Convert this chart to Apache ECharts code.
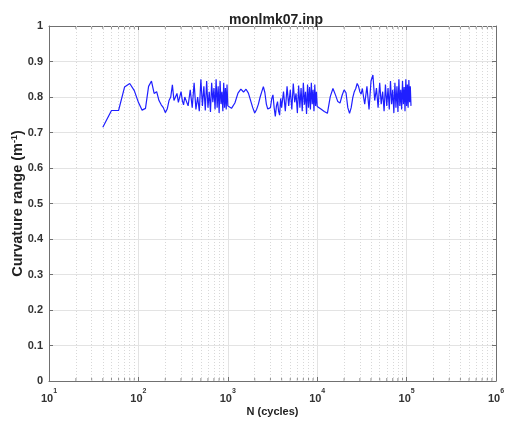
<!DOCTYPE html>
<html>
<head>
<meta charset="utf-8">
<script src="https://cdn.jsdelivr.net/npm/echarts@6/dist/echarts.min.js"></script>
<style>
html,body{margin:0;padding:0;background:#fff;}
#chart{width:505px;height:421px;}
</style>
</head>
<body>
<div id="chart"></div>
<script>
// Cycle counts N (log axis)
const cycles = [
  40, 50, 60, 70, 80, 90,
  100, 110, 120, 130, 140, 150, 160, 170, 180, 190, 200, 210, 220, 230, 240, 250, 260, 270, 280, 290, 300, 310, 320, 330,
  340, 360, 380, 400, 420, 440, 460, 480, 500, 520, 540, 560, 580, 600, 620, 640, 660, 680, 700, 720, 740, 760, 780, 800, 820, 840, 860, 880, 900, 920, 940, 960, 980, 1000,
  1100, 1200, 1300, 1400, 1500, 1600, 1700, 1800, 1900, 2000, 2100, 2200, 2300, 2400, 2500, 2600, 2700, 2800, 2900, 3000, 3100, 3200, 3300, 3400, 3500, 3600, 3700, 3800, 3900,
  4000, 4200, 4400, 4600, 4800, 5000, 5200, 5400, 5600, 5800, 6000, 6200, 6400, 6600, 6800, 7000, 7200, 7400, 7600, 7800, 8000, 8200, 8400, 8600, 8800, 9000, 9200, 9400, 9600, 9800, 10000,
  11000, 12000, 13000, 14000, 15000, 16000, 17000, 18000, 19000, 20000, 21000, 22000, 23000, 24000, 25000, 26000, 27000, 28000, 29000, 30000, 31000, 32000, 33000,
  34000, 36000, 38000, 40000, 42000, 44000, 46000, 48000, 50000, 52000, 54000, 56000, 58000, 60000, 62000, 64000, 66000, 68000, 70000, 72000, 74000, 76000, 78000, 80000,
  82000, 84000, 86000, 88000, 90000, 92000, 94000, 96000, 98000, 100000, 102000, 104000, 106000, 108000, 110000, 112000
];

// Curvature range (1/m) at each cycle count
const curvature = [
  0.715, 0.762, 0.762, 0.828, 0.838, 0.818,
  0.785, 0.763, 0.768, 0.830, 0.845, 0.810, 0.815, 0.790, 0.778, 0.770, 0.756, 0.766, 0.790, 0.800, 0.834, 0.790, 0.785, 0.810, 0.785, 0.790, 0.815, 0.790, 0.778, 0.800,
  0.795, 0.775, 0.820, 0.770, 0.840, 0.765, 0.800, 0.760, 0.850, 0.775, 0.830, 0.762, 0.845, 0.770, 0.815, 0.758, 0.840, 0.785, 0.825, 0.765, 0.850, 0.770, 0.830, 0.755, 0.845, 0.780, 0.815, 0.760, 0.840, 0.770, 0.825, 0.765, 0.835, 0.775,
  0.768, 0.783, 0.811, 0.822, 0.814, 0.822, 0.811, 0.790, 0.770, 0.755, 0.765, 0.780, 0.800, 0.815, 0.829, 0.812, 0.780, 0.766, 0.762, 0.770, 0.795, 0.806, 0.770, 0.745, 0.775, 0.787, 0.760, 0.749, 0.796,
  0.770, 0.815, 0.760, 0.830, 0.775, 0.820, 0.765, 0.838, 0.785, 0.810, 0.755, 0.832, 0.770, 0.825, 0.760, 0.840, 0.778, 0.815, 0.752, 0.835, 0.770, 0.828, 0.765, 0.840, 0.780, 0.820, 0.760, 0.835, 0.775, 0.815, 0.773,
  0.766, 0.759, 0.754, 0.801, 0.824, 0.806, 0.787, 0.783, 0.805, 0.820, 0.812, 0.770, 0.754, 0.770, 0.798, 0.815, 0.824, 0.838, 0.830, 0.815, 0.808, 0.824, 0.800,
  0.780, 0.830, 0.765, 0.845, 0.862, 0.790, 0.825, 0.770, 0.840, 0.780, 0.815, 0.760, 0.835, 0.775, 0.825, 0.765, 0.845, 0.780, 0.820, 0.755, 0.840, 0.770, 0.830, 0.758,
  0.850, 0.775, 0.820, 0.765, 0.845, 0.780, 0.828, 0.760, 0.850, 0.775, 0.835, 0.770, 0.848, 0.785, 0.830, 0.775
];

// Axis ranges and ticks
const xMin = 10, xMax = 1e6;
const minorMultipliers = [2, 3, 4, 5, 6, 7, 8, 9];
const decades = [10, 100, 1000, 10000, 100000];

const minorX = [];
decades.forEach(d => minorMultipliers.forEach(m => minorX.push(m * d)));

const lineData = cycles.map((n, i) => [n, curvature[i]]);

const FONT = '"Liberation Sans", Arial, sans-serif';
const AXIS_COLOR = '#707070';
const GRID_COLOR = '#e3e3e3';

function powLabel(v) {
  const e = Math.round(Math.log10(v));
  return '{b|10}{s|' + e + '}';
}

const xBase = {
  type: 'log',
  logBase: 10,
  min: xMin,
  max: xMax,
  axisLine: { show: true, onZero: false, lineStyle: { color: AXIS_COLOR, width: 1 } },
  axisTick: { show: true, inside: true, length: 4, lineStyle: { color: AXIS_COLOR } },
  minorTick: { show: false },
  splitLine: { show: false }
};

const yBase = {
  type: 'value',
  min: 0,
  max: 1,
  interval: 0.1,
  axisLine: { show: true, lineStyle: { color: AXIS_COLOR, width: 1 } },
  axisTick: { show: true, inside: true, length: 4, lineStyle: { color: AXIS_COLOR } },
  splitLine: { show: false }
};

const chart = echarts.init(document.getElementById('chart'), null, { renderer: 'canvas' });

chart.setOption({
  animation: false,
  backgroundColor: '#ffffff',
  title: {
    text: 'monlmk07.inp',
    left: 224,
    top: 8,
    textStyle: { fontFamily: FONT, fontSize: 14, fontWeight: 'bold', color: '#222' }
  },
  grid: { left: 49, right: 9, top: 26, bottom: 40, containLabel: false, outerBoundsMode: 'none' },
  xAxis: [
    Object.assign({}, xBase, {
      position: 'bottom',
      name: 'N (cycles)',
      nameLocation: 'middle',
      nameGap: 25,
      nameMoveOverlap: false,
      nameTextStyle: { fontFamily: FONT, fontSize: 11, fontWeight: 'bold', color: '#222' },
      splitLine: { show: true, lineStyle: { color: GRID_COLOR, width: 1 } },
      axisLabel: {
        show: true,
        margin: 7,
        formatter: powLabel,
        rich: {
          b: { fontFamily: FONT, fontSize: 11, fontWeight: 'bold', color: '#333', verticalAlign: 'bottom', lineHeight: 16 },
          s: { fontFamily: FONT, fontSize: 7, fontWeight: 'bold', color: '#333', verticalAlign: 'top', lineHeight: 16 }
        }
      }
    }),
    Object.assign({}, xBase, { position: 'top', axisLabel: { show: false } })
  ],
  yAxis: [
    Object.assign({}, yBase, {
      position: 'left',
      name: 'Curvature range (m{s|-1})',
      nameLocation: 'middle',
      nameRotate: 90,
      nameGap: 24,
      nameMoveOverlap: false,
      nameTextStyle: {
        fontFamily: FONT, fontSize: 14.5, fontWeight: 'bold', color: '#222',
        rich: {
          s: { fontFamily: FONT, fontSize: 9, fontWeight: 'bold', color: '#222', verticalAlign: 'top' }
        }
      },
      splitLine: { show: true, lineStyle: { color: GRID_COLOR, width: 1 } },
      axisLabel: {
        show: true,
        margin: 6,
        fontFamily: FONT,
        fontSize: 11,
        fontWeight: 'bold',
        color: '#333',
        formatter: v => String(Math.round(v * 10) / 10)
      }
    }),
    Object.assign({}, yBase, { position: 'right', axisLabel: { show: false } })
  ],
  series: [
    {
      // minor decade grid (2..9 x 10^k), dotted
      type: 'line',
      data: [],
      silent: true,
      markLine: {
        silent: true,
        symbol: 'none',
        label: { show: false },
        lineStyle: { color: '#d8d8d8', type: [1, 2], width: 1 },
        data: minorX.map(v => ({ xAxis: v }))
      }
    },
    {
      // minor ticks along the bottom edge
      type: 'scatter',
      silent: true,
      symbol: 'rect',
      symbolSize: [1, 3],
      symbolOffset: [0, -1.5],
      itemStyle: { color: AXIS_COLOR },
      data: minorX.map(v => [v, 0])
    },
    {
      // minor ticks along the top edge
      type: 'scatter',
      silent: true,
      symbol: 'rect',
      symbolSize: [1, 3],
      symbolOffset: [0, 1.5],
      itemStyle: { color: AXIS_COLOR },
      data: minorX.map(v => [v, 1])
    },
    {
      name: 'Curvature range',
      type: 'line',
      data: lineData,
      showSymbol: false,
      symbol: 'none',
      lineStyle: { color: '#1f1fff', width: 1.2 },
      z: 5
    }
  ]
});
</script>
</body>
</html>
